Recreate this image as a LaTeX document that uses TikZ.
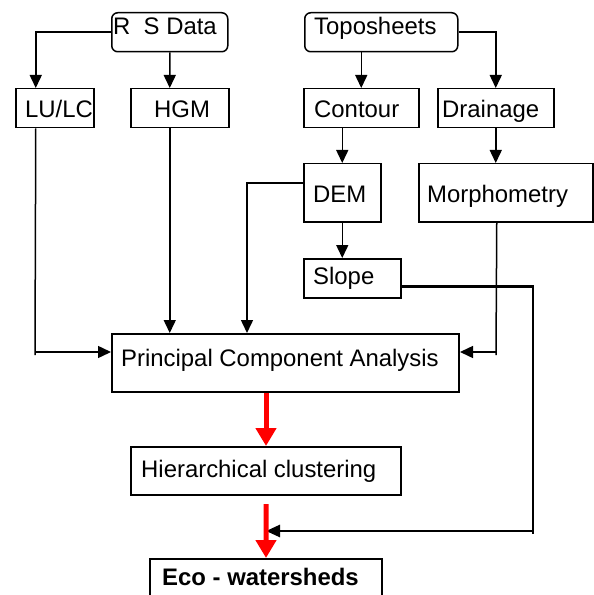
\documentclass[tikz,border=0pt]{standalone}
\usepackage{fontspec}
\setmainfont{Liberation Sans}
\usetikzlibrary{arrows.meta}
\tikzset{
  box/.style={draw=black, line width=1.5bp, rectangle, inner sep=0pt, anchor=north west},
  rbox/.style={box, rounded corners=6bp},
  bigbox/.style={box, line width=2bp},
  txt/.style={inner sep=0pt, anchor=base west, font=\fontsize{23.9bp}{28bp}\selectfont},
  conn/.style={line width=1.5bp, -{Triangle[width=12bp,length=13bp]}},
  plain/.style={line width=1.5bp},
  thickconn/.style={line width=2.6bp},
  redarrow/.style={red, line width=5bp, -{Triangle[width=20bp,length=18bp]}}
}
\begin{document}
\begin{tikzpicture}[x=1bp,y=-1bp]
\useasboundingbox (0,0) rectangle (594,595);
% boxes
\node[rbox, minimum width=116bp, minimum height=39bp] (rs) at (111,12) {};
\node[box, minimum width=78bp, minimum height=39bp] (lulc) at (15,88) {};
\node[box, minimum width=98bp, minimum height=39bp] (hgm) at (130,88) {};
\node[rbox, minimum width=153bp, minimum height=39bp] (topo) at (304,12) {};
\node[box, minimum width=115bp, minimum height=39bp] (contour) at (303,88) {};
\node[box, minimum width=116bp, minimum height=39bp] (drain) at (437,88) {};
\node[box, minimum width=77bp, minimum height=58bp] (dem) at (303,163) {};
\node[box, minimum width=174bp, minimum height=58bp] (morph) at (418,163) {};
\node[box, minimum width=97bp, minimum height=39bp] (slope) at (303,258) {};
\node[bigbox, minimum width=347bp, minimum height=58bp] (pca) at (111,333) {};
\node[bigbox, minimum width=270bp, minimum height=48bp] (hier) at (130,446) {};
\node[bigbox, minimum width=232bp, minimum height=45bp] (eco) at (149,558) {};
% texts
\node[txt] (rst) at (113,35) {R\ \ S Data};
\node[txt] (lulct) at (25,118) {LU/LC};
\node[txt] (hgmt) at (154,118) {HGM};
\node[txt] (topot) at (314,35) {Toposheets};
\node[txt] (contourt) at (314,118) {Contour};
\node[txt] (draint) at (442,118) {Drainage};
\node[txt] (demt) at (313,202) {DEM};
\node[txt] (morpht) at (427,202) {Morphometry};
\node[txt] (slopet) at (313,284) {Slope};
\node[txt] (pcat) at (121,366) {Principal Component Analysis};
\node[txt] (hiert) at (141,477) {Hierarchical clustering};
\node[txt] (ecot) at (162,585) {\bfseries Eco - watersheds};
% corner coordinates
\coordinate (lc) at (35,352);
\coordinate (lcx) at (35,355);
\coordinate (mc) at (496,352);
\coordinate (mcx) at (496,355);
\coordinate (sc) at (533,531);
\coordinate (scx) at (533,534);
\coordinate (se) at (266,531);
% connectors
\draw[conn] (rs.west) -| ([xshift=-19bp]lulc.north);
\draw[conn] (rs.south) -- ([xshift=-10bp]hgm.north);
\draw[conn] (contour.north |- topo.south) -- (contour.north);
\draw[conn] (topo.east) -| (drain.north);
\draw[conn] (dem.north |- contour.south) -- (dem.north);
\draw[conn] (drain.south) -- (drain.south |- morph.north);
\draw[conn] (dem.south) -- (dem.south |- slope.north);
\draw[plain] ([xshift=-19bp]lulc.south) -- (lcx);
\draw[conn] (lc) -- (lc -| pca.west);
\draw[conn] ([xshift=-10bp]hgm.south) -- ([xshift=-10bp]hgm.south |- pca.north);
\draw[conn] ([yshift=10bp]dem.west) -| ([xshift=-38.5bp]pca.north);
\draw[plain] ([xshift=-9bp]morph.south) -- (mcx);
\draw[conn] (mc) -- (mc -| pca.east);
\draw[thickconn] ([yshift=-8.5bp]slope.east) -| (scx);
\draw[thickconn, -{Triangle[width=12bp,length=14bp]}] (sc) -- (se);
\draw[redarrow] (hier.north |- pca.south) -- (hier.north);
\draw[redarrow] ([yshift=-8bp]hier.south) -- (eco.north);
\end{tikzpicture}
\end{document}
